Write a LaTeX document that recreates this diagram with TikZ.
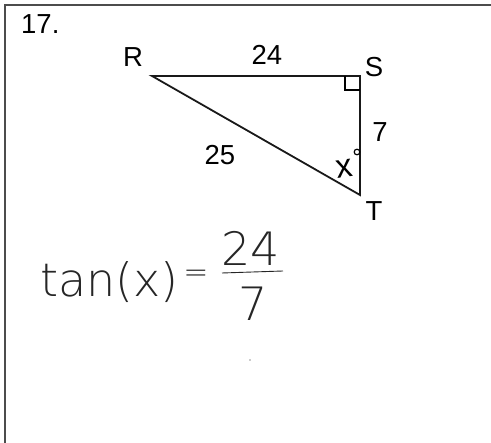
\documentclass[tikz,border=0pt]{standalone}
\usepackage{fontspec}
\setmainfont{Liberation Sans}
\newfontfamily\handfont{DejaVu Sans}[UprightFont={* ExtraLight}]
\begin{document}
\begin{tikzpicture}[x=1pt,y=-1pt,
  lbl/.style={font=\fontsize{27.5}{30}\selectfont, inner sep=0pt, anchor=base},
  hand/.style={font=\handfont\fontsize{46}{50}\selectfont, inner sep=0pt, text=black!85},
  edge/.style={line width=1.8pt, black!90},
  frame/.style={line width=1.2pt, black!70}]
\useasboundingbox (0,0) rectangle (491,443);
\fill[white] (0,0) rectangle (491,443);
% frame
\coordinate (fbl) at (5,443);
\coordinate (ftl) at (5,5);
\coordinate (ftr) at (491,5);
\draw[frame] (fbl) -- (ftl) -- (ftr);
% number
\node[lbl, anchor=base west] (num) at (21,34) {17.};
% triangle
\coordinate (R) at (152,76);
\coordinate (S) at (360,76);
\coordinate (T) at (360,195);
\draw[edge, line join=miter] (R) -- (S) -- (T) -- cycle;
\coordinate (ra1) at (345,76);
\coordinate (ra2) at (345,90);
\coordinate (ra3) at (360,90);
\draw[line width=1.3pt] (ra1) -- (ra2) -- (ra3);
% labels
\node[lbl] (lR) at (133,67) {R};
\node[lbl] (lS) at (374,77) {S};
\node[lbl] (lT) at (374,221) {T};
\node[lbl] (l24) at (267,65) {24};
\node[lbl] (l7) at (380,142) {7};
\node[lbl] (l25) at (220,165) {25};
\node[font=\fontsize{33}{35}\selectfont, inner sep=0pt, rotate=8] (lx) at (344,169) {x};
\coordinate (deg) at (357,152);
\draw[line width=1.2pt] (deg) circle (2.8);
% handwritten answer
\node[hand, anchor=base west] (tan) at (40,297) {tan(x)};
\node[hand, font=\handfont\fontsize{30}{32}\selectfont] (eq) at (196,276) {=};
\node[hand] (num24) at (251,248) {24};
\coordinate (barL) at (222,273);
\coordinate (barR) at (283,271);
\draw[line width=0.9pt, black!85] (barL) -- (barR);
\node[hand] (den7) at (253,304) {7};
\coordinate (dot) at (250,360);
\fill[black!40] (dot) circle (0.8);
\end{tikzpicture}
\end{document}
